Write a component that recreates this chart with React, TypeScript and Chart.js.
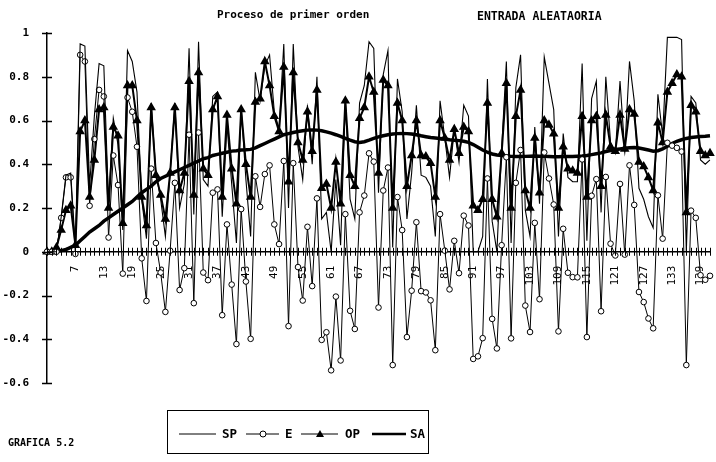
import React, { useEffect, useRef } from "react";
import { Chart, registerables } from "chart.js";

Chart.register(...registerables);

const categories: string[] = Array.from({ length: 141 }, (_, i) => String(i + 1));
const xTickLabels = ["7", "13", "19", "25", "31", "37", "43", "49", "55", "61", "67", "73", "79", "85", "91", "97", "103", "109", "115", "121", "127", "133", "139"];
const yTickValues = [-0.6, -0.4, -0.2, 0, 0.2, 0.4, 0.6, 0.8, 1];
const yTickLabels = ["-0.6", "-0.4", "-0.2", "0", "0.2", "0.4", "0.6", "0.8", "1"];

const spValues = [
  0, 0, 0, 0.16, 0.35, 0.36, 0.02, 0.95, 0.94, 0.30,
  0.62, 0.86, 0.85, 0.22, 0.61, 0.49, 0.10, 0.92, 0.87, 0.73,
  0.24, 0.06, 0.68, 0.36, 0.24, 0.07, 0.36, 0.68, 0.20, 0.31,
  0.93, 0.17, 0.96, 0.33, 0.30, 0.71, 0.73, 0.16, 0.58, 0.31,
  0.04, 0.66, 0.33, 0.07, 0.82, 0.69, 0.85, 0.90, 0.64, 0.56,
  0.95, 0.20, 0.95, 0.48, 0.33, 0.67, 0.40, 0.80, 0.15, 0.18,
  0.00, 0.33, 0.03, 0.69, 0.24, 0.15, 0.68, 0.76, 0.96, 0.93,
  0.27, 0.81, 0.92, 0.02, 0.79, 0.64, 0.15, 0.36, 0.67, 0.35,
  0.34, 0.30, 0.07, 0.69, 0.52, 0.34, 0.56, 0.41, 0.67, 0.62,
  0.00, 0.00, 0.07, 0.79, 0.14, 0.00, 0.47, 0.87, 0.04, 0.75,
  0.90, 0.19, 0.07, 0.57, 0.22, 0.89, 0.77, 0.65, 0.07, 0.54,
  0.34, 0.32, 0.32, 0.86, 0.05, 0.70, 0.78, 0.18, 0.80, 0.50,
  0.45, 0.78, 0.46, 0.87, 0.69, 0.29, 0.24, 0.16, 0.11, 0.72,
  0.53, 0.98, 0.98, 0.98, 0.97, 0.00, 0.71, 0.68, 0.42, 0.40,
  0.42,
];

const eValues = [
  0, 0, 0, 0.155, 0.34, 0.34, -0.01, 0.90, 0.87, 0.21,
  0.515, 0.74, 0.71, 0.065, 0.44, 0.305, -0.10, 0.705, 0.64, 0.48,
  -0.03, -0.225, 0.38, 0.04, -0.095, -0.275, 0.005, 0.315, -0.175, -0.075,
  0.535, -0.235, 0.545, -0.095, -0.13, 0.27, 0.285, -0.29, 0.125, -0.15,
  -0.422, 0.195, -0.136, -0.398, 0.345, 0.205, 0.355, 0.395, 0.125, 0.035,
  0.415, -0.34, 0.405, -0.07, -0.223, 0.114, -0.157, 0.244, -0.403, -0.368,
  -0.542, -0.205, -0.497, 0.172, -0.27, -0.353, 0.18, 0.257, 0.45, 0.412,
  -0.255, 0.28, 0.385, -0.518, 0.25, 0.099, -0.39, -0.178, 0.135, -0.18,
  -0.186, -0.222, -0.45, 0.172, 0.005, -0.172, 0.05, -0.098, 0.165, 0.12,
  -0.49, -0.478, -0.395, 0.335, -0.307, -0.442, 0.03, 0.432, -0.396, 0.315,
  0.465, -0.246, -0.367, 0.132, -0.217, 0.454, 0.335, 0.216, -0.364, 0.105,
  -0.096, -0.116, -0.117, 0.422, -0.39, 0.256, 0.332, -0.272, 0.342, 0.037,
  -0.017, 0.31, -0.013, 0.395, 0.214, -0.184, -0.23, -0.305, -0.35, 0.258,
  0.06, 0.498, 0.485, 0.475, 0.458, -0.518, 0.188, 0.155, -0.107, -0.128,
  -0.11,
];

const opValues = [
  0, 0, 0.02, 0.10, 0.19, 0.21, 0.03, 0.55, 0.60, 0.25,
  0.42, 0.65, 0.66, 0.20, 0.57, 0.53, 0.13, 0.76, 0.76, 0.60,
  0.25, 0.12, 0.66, 0.35, 0.26, 0.15, 0.36, 0.66, 0.28, 0.36,
  0.78, 0.26, 0.82, 0.38, 0.35, 0.65, 0.71, 0.25, 0.625, 0.38,
  0.22, 0.65, 0.40, 0.25, 0.685, 0.70, 0.87, 0.76, 0.62, 0.55,
  0.845, 0.32, 0.82, 0.50, 0.42, 0.64, 0.46, 0.74, 0.29, 0.31,
  0.20, 0.41, 0.22, 0.69, 0.35, 0.30, 0.61, 0.66, 0.80, 0.73,
  0.36, 0.785, 0.76, 0.20, 0.68, 0.60, 0.30, 0.44, 0.60, 0.44,
  0.435, 0.405, 0.25, 0.60, 0.52, 0.42, 0.56, 0.45, 0.57, 0.55,
  0.21, 0.19, 0.24, 0.68, 0.24, 0.16, 0.45, 0.77, 0.20, 0.62,
  0.74, 0.28, 0.20, 0.52, 0.27, 0.60, 0.58, 0.54, 0.20, 0.48,
  0.38, 0.37, 0.36, 0.62, 0.25, 0.60, 0.62, 0.30, 0.625, 0.48,
  0.46, 0.625, 0.47, 0.65, 0.63, 0.41, 0.39, 0.34, 0.28, 0.59,
  0.50, 0.73, 0.77, 0.81, 0.80, 0.18, 0.67, 0.64, 0.46, 0.44,
  0.45,
];

const saValues = [
  0, 0, 0, 0.005, 0.01, 0.02, 0.03, 0.05, 0.07, 0.09,
  0.105, 0.12, 0.14, 0.155, 0.17, 0.185, 0.2, 0.215, 0.23, 0.25,
  0.27, 0.285, 0.30, 0.32, 0.335, 0.345, 0.355, 0.365, 0.375, 0.385,
  0.395, 0.405, 0.415, 0.425, 0.43, 0.44, 0.445, 0.45, 0.455, 0.46,
  0.462, 0.465, 0.466, 0.468, 0.475, 0.485, 0.495, 0.505, 0.515, 0.525,
  0.535, 0.54, 0.545, 0.55, 0.553, 0.556, 0.557, 0.556, 0.553, 0.548,
  0.542, 0.535, 0.527, 0.518, 0.51, 0.503, 0.50, 0.503, 0.51, 0.518,
  0.525, 0.53, 0.535, 0.538, 0.54, 0.541, 0.54, 0.538, 0.535, 0.53,
  0.526, 0.522, 0.52, 0.518, 0.515, 0.512, 0.51, 0.508, 0.505, 0.50,
  0.49, 0.478, 0.465, 0.455, 0.447, 0.442, 0.44, 0.438, 0.436, 0.435,
  0.435, 0.436, 0.437, 0.438, 0.437, 0.436, 0.435, 0.434, 0.434, 0.435,
  0.436, 0.436, 0.437, 0.438, 0.44, 0.444, 0.448, 0.452, 0.458, 0.463,
  0.467, 0.47, 0.473, 0.475, 0.476, 0.474, 0.47, 0.465, 0.46, 0.462,
  0.47, 0.482, 0.495, 0.505, 0.512, 0.518, 0.522, 0.525, 0.527, 0.528,
  0.53,
];

const MONO = "'DejaVu Sans Mono', monospace";

const crossTicks = {
  id: "crossTicks",
  afterDatasetsDraw(chart: any) {
    const { ctx, scales } = chart;
    const x = scales.x;
    const y = scales.y;
    const y0 = y.getPixelForValue(0);
    ctx.save();
    ctx.strokeStyle = "#000";
    ctx.lineWidth = 1;
    ctx.beginPath();
    for (let i = 0; i < categories.length; i++) {
      const px = Math.round(x.getPixelForValue(i)) + 0.5;
      ctx.moveTo(px, y0 - 4);
      ctx.lineTo(px, y0 + 4);
    }
    ctx.stroke();
    ctx.lineWidth = 1.5;
    ctx.beginPath();
    for (const v of yTickValues) {
      const py = Math.round(y.getPixelForValue(v)) + 0.5;
      ctx.moveTo(x.left - 5, py);
      ctx.lineTo(x.left + 5, py);
    }
    ctx.stroke();
    ctx.restore();
  },
};

function LegendBox() {
  const cy = 23;
  const tri = (cx: number) => `${cx},${cy - 4} ${cx - 4},${cy + 3} ${cx + 4},${cy + 3}`;
  return (
    <div
      style={{
        position: "absolute",
        left: 167,
        top: 410,
        width: 262,
        height: 44,
        border: "1.5px solid #000",
        boxSizing: "border-box",
      }}
    >
      <svg width={260} height={42} style={{ display: "block" }}>
        <line x1={11} y1={cy} x2={48} y2={cy} stroke="#000" strokeWidth={1} />
        <text x={54} y={cy + 4} fontFamily={MONO} fontWeight="bold" fontSize={12.5}>SP</text>
        <line x1={78} y1={cy} x2={111} y2={cy} stroke="#000" strokeWidth={1} />
        <circle cx={95} cy={cy} r={3} fill="#fff" stroke="#000" strokeWidth={1} />
        <text x={117} y={cy + 4} fontFamily={MONO} fontWeight="bold" fontSize={12.5}>E</text>
        <line x1={133} y1={cy} x2={170} y2={cy} stroke="#000" strokeWidth={1} />
        <polygon points={tri(152)} fill="#000" />
        <text x={177} y={cy + 4} fontFamily={MONO} fontWeight="bold" fontSize={12.5}>OP</text>
        <line x1={204} y1={cy} x2={238} y2={cy} stroke="#000" strokeWidth={2.5} />
        <text x={242} y={cy + 4} fontFamily={MONO} fontWeight="bold" fontSize={12.5}>SA</text>
      </svg>
    </div>
  );
}

export default function App() {
  const canvasRef = useRef<HTMLCanvasElement | null>(null);

  useEffect(() => {
    if (!canvasRef.current) return;
    const chart = new Chart(canvasRef.current, {
      type: "line",
      data: {
        labels: categories,
        datasets: [
          {
            label: "SP",
            data: spValues,
            borderColor: "#000",
            borderWidth: 1.1,
            pointRadius: 0,
            tension: 0,
          },
          {
            label: "E",
            data: eValues,
            borderColor: "#000",
            borderWidth: 1,
            pointStyle: "circle",
            pointRadius: 2.8,
            pointBackgroundColor: "#fff",
            pointBorderColor: "#000",
            pointBorderWidth: 1,
            tension: 0,
          },
          {
            label: "OP",
            data: opValues,
            borderColor: "#000",
            borderWidth: 2,
            pointStyle: "triangle",
            pointRadius: 3.5,
            pointBackgroundColor: "#000",
            pointBorderColor: "#000",
            tension: 0,
          },
          {
            label: "SA",
            data: saValues,
            borderColor: "#000",
            borderWidth: 3.5,
            pointRadius: 0,
            tension: 0,
          },
        ],
      },
      options: {
        animation: false,
        responsive: false,
        devicePixelRatio: 1,
        layout: { padding: { top: 33, bottom: 79, left: 0, right: 5 } },
        plugins: {
          legend: { display: false },
          title: { display: false },
          tooltip: { enabled: false },
        },
        scales: {
          x: {
            type: "category",
            position: { y: 0 } as any,
            offset: false,
            grid: { display: false },
            border: { display: true, color: "#000", width: 1.5 },
            afterFit: (s: any) => {
              s.paddingLeft = 0;
              s.paddingRight = 0;
            },
            ticks: {
              autoSkip: false,
              minRotation: 90,
              maxRotation: 90,
              padding: 6,
              color: "#000",
              font: { family: MONO, size: 11 },
              callback: (_v: any, idx: number) =>
                xTickLabels.includes(categories[idx]) ? categories[idx] : "",
            },
          },
          y: {
            type: "linear",
            position: "left",
            min: -0.6,
            max: 1,
            grid: { display: false },
            border: { display: true, color: "#000", width: 1.5 },
            afterFit: (s: any) => {
              s.width = 47;
            },
            afterBuildTicks: (s: any) => {
              s.ticks = yTickValues.map((v) => ({ value: v }));
            },
            ticks: {
              padding: 10,
              color: "#000",
              font: { family: MONO, size: 11, weight: "bold" },
              callback: (_v: any, idx: number) => yTickLabels[idx],
            },
          },
        },
      },
      plugins: [crossTicks],
    });
    return () => chart.destroy();
  }, []);

  return (
    <div style={{ position: "absolute", left: 0, top: 0, width: 716, height: 462, background: "#fff" }}>
      <canvas ref={canvasRef} width={716} height={462} style={{ position: "absolute", left: 0, top: 0 }} />
      <div
        style={{
          position: "absolute",
          left: 217,
          top: 8,
          fontFamily: MONO,
          fontWeight: "bold",
          fontSize: 11,
          whiteSpace: "nowrap",
        }}
      >
        Proceso de primer orden
      </div>
      <div
        style={{
          position: "absolute",
          left: 477,
          top: 9,
          fontFamily: MONO,
          fontWeight: "bold",
          fontSize: 11.5,
          whiteSpace: "nowrap",
        }}
      >
        ENTRADA ALEATAORIA
      </div>
      <div
        style={{
          position: "absolute",
          left: 8,
          top: 437,
          fontFamily: MONO,
          fontWeight: "bold",
          fontSize: 10,
          whiteSpace: "nowrap",
        }}
      >
        GRAFICA 5.2
      </div>
      <LegendBox />
    </div>
  );
}
